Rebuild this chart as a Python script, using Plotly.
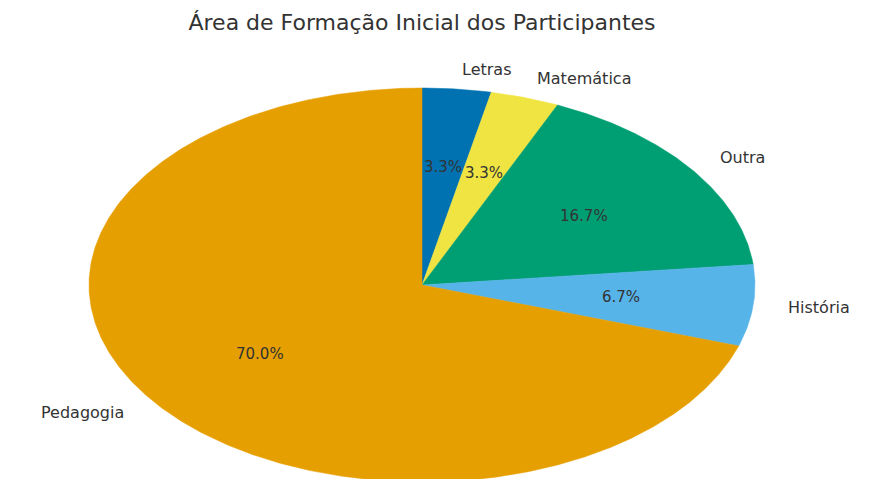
import numpy as np
import plotly.graph_objects as go

# ==============================
# DATA
# ==============================
labels = ["Letras", "Matemática", "Outra", "História", "Pedagogia"]
counts = [1, 1, 5, 2, 21]
colors = ["#0072B2", "#F0E442", "#009E73", "#56B4E9", "#E69F00"]

title = "Área de Formação Inicial dos Participantes"
text_color = "#333333"
font = "DejaVu Sans"

# ==============================
# PIE (drawn as wedges so it can be stretched like the original)
# ==============================
total = sum(counts)
fig = go.Figure()
annotations = []

start = 0.0
for lab, n, col in zip(labels, counts, colors):
    frac = n / total
    end = start + frac
    t = np.linspace(start, end, max(4, int(frac * 720))) * 2 * np.pi
    xs = np.concatenate([[0], np.sin(t), [0]])
    ys = np.concatenate([[0], np.cos(t), [0]])
    fig.add_trace(go.Scatter(
        x=xs, y=ys,
        fill="toself", fillcolor=col,
        mode="lines", line=dict(color=col, width=0.5),
        name=lab, hoverinfo="name", showlegend=False
    ))

    mid = (start + end) * np.pi
    sx, cy = np.sin(mid), np.cos(mid)
    # outer label
    annotations.append(dict(
        x=1.1 * sx, y=1.1 * cy, text=lab, showarrow=False,
        xanchor="left" if sx > 0 else "right", yanchor="middle",
        font=dict(family=font, size=16, color=text_color)
    ))
    # percentage
    annotations.append(dict(
        x=0.6 * sx, y=0.6 * cy, text=f"{frac * 100:.1f}%", showarrow=False,
        xanchor="center", yanchor="middle",
        font=dict(family=font, size=15, color=text_color)
    ))
    start = end

# ==============================
# LAYOUT
# ==============================
# page body adds an 8px margin, so positions are shifted back by 8px
W, H = 872, 479
cx_px, cy_px, rx_px, ry_px = 414, 277, 333, 197

fig.update_layout(
    width=W, height=H,
    margin=dict(l=0, r=0, t=0, b=0),
    paper_bgcolor="white", plot_bgcolor="white",
    title=dict(
        text=title, x=cx_px / W, xanchor="center",
        y=1 - 14 / H, yanchor="middle", yref="container",
        font=dict(family=font, size=22, color=text_color)
    ),
    xaxis=dict(range=[-cx_px / rx_px, (W - cx_px) / rx_px], visible=False, fixedrange=True),
    yaxis=dict(range=[-(H - cy_px) / ry_px, cy_px / ry_px], visible=False, fixedrange=True),
    annotations=annotations
)

fig.write_html("out.html")
